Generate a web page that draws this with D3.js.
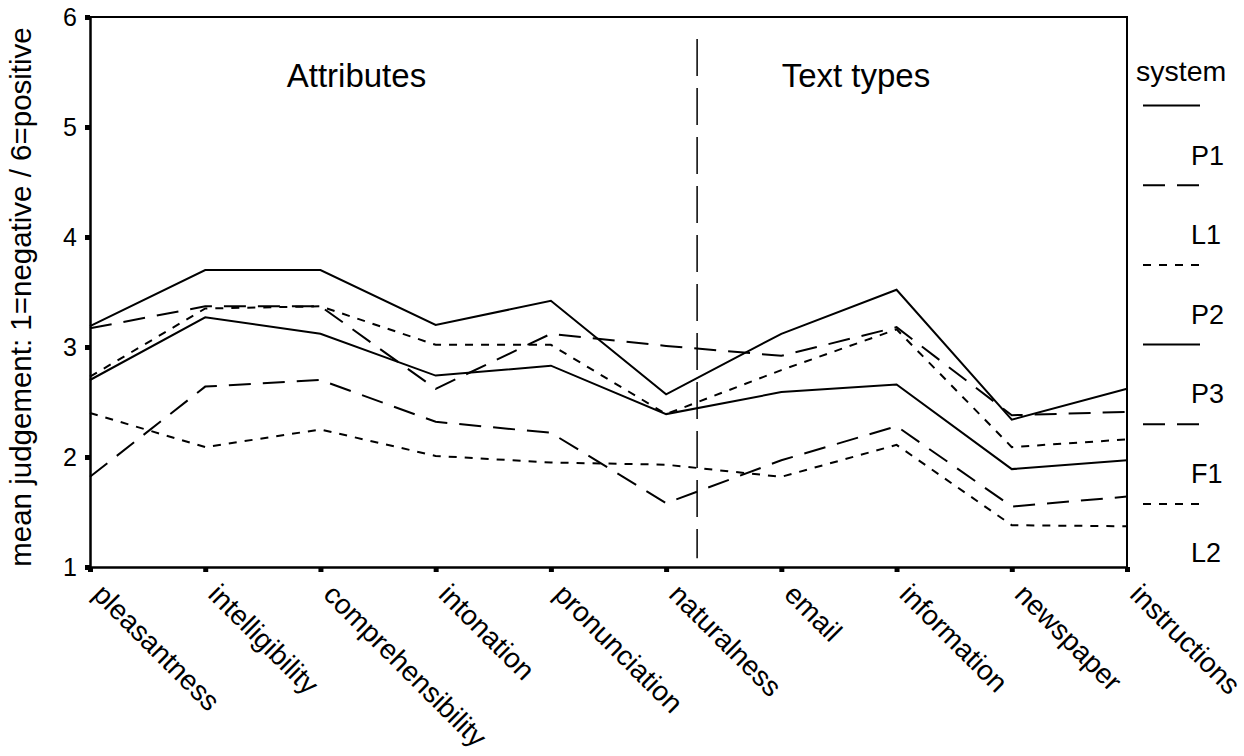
<!DOCTYPE html>
<html>
<head>
<meta charset="utf-8">
<script src="https://cdn.jsdelivr.net/npm/d3@7"></script>
<style>
  html, body { margin: 0; padding: 0; background: #fff; }
  svg { display: block; }
  text { font-family: "Liberation Sans", Arial, sans-serif; fill: #000; }
</style>
</head>
<body>
<svg id="chart" width="1244" height="756"></svg>
<script>
// ---- data ----
const categories = ["pleasantness", "intelligibility", "comprehensibility", "intonation", "pronunciation",
                    "naturalness", "email", "information", "newspaper", "instructions"];
const yTicks = [1, 2, 3, 4, 5, 6];
const systems = ["P1", "L1", "P2", "P3", "F1", "L2"];
const P1 = [3.19, 3.70, 3.70, 3.20, 3.42, 2.57, 3.12, 3.52, 2.34, 2.62];
const L1 = [3.17, 3.37, 3.37, 2.62, 3.12, 3.01, 2.92, 3.18, 2.38, 2.41];
const P2 = [2.73, 3.35, 3.37, 3.02, 3.02, 2.39, 2.79, 3.16, 2.09, 2.16];
const P3 = [2.70, 3.27, 3.12, 2.74, 2.83, 2.39, 2.59, 2.66, 1.89, 1.97];
const F1 = [1.82, 2.64, 2.70, 2.32, 2.22, 1.58, 1.97, 2.28, 1.55, 1.64];
const L2 = [2.40, 2.09, 2.25, 2.01, 1.95, 1.93, 1.82, 2.11, 1.38, 1.37];
const seriesValues = [P1, L1, P2, P3, F1, L2];
const groupLabels = ["Attributes", "Text types"];
const yTitle = "mean judgement: 1=negative / 6=positive";
const legendTitle = "system";

// ---- styles ----
const dashes = ["none", "22,12", "8,8", "none", "22,12", "8,8"];

const svg = d3.select("#chart");
const mLeft = 90, mRight = 1127, mTop = 17, mBottom = 567;

const x = d3.scalePoint().domain(categories).range([mLeft, mRight]).padding(0);
const y = d3.scaleLinear().domain([1, 6]).range([mBottom, mTop]);

// frame (top & right)
svg.append("path")
  .attr("d", `M${mLeft},${mTop}H${mRight}V${mBottom}`)
  .attr("fill", "none").attr("stroke", "#000").attr("stroke-width", 2);

// y axis
const yAxis = svg.append("g").attr("transform", `translate(${mLeft},0)`)
  .call(d3.axisLeft(y).tickValues(yTicks).tickFormat(d3.format("d")).tickSize(5).tickSizeOuter(0).tickPadding(8));
yAxis.select(".domain").attr("stroke-width", 2.5);
yAxis.selectAll(".tick line").attr("stroke-width", 5);
yAxis.selectAll(".tick text").attr("font-size", 25).attr("font-family", "Liberation Sans, Arial, sans-serif").attr("fill", "#000");

// x axis
const xAxis = svg.append("g").attr("transform", `translate(0,${mBottom})`)
  .call(d3.axisBottom(x).tickSize(5).tickSizeOuter(0).tickFormat(""));
xAxis.select(".domain").attr("stroke-width", 2.5);
xAxis.selectAll(".tick line").attr("stroke-width", 5);
xAxis.selectAll(".tick").append("text")
  .attr("transform", "translate(1,29) rotate(45)")
  .attr("text-anchor", "start")
  .attr("font-size", 28)
  .attr("fill", "#000")
  .text(d => d);

// y title
svg.append("text")
  .attr("transform", `translate(31,${(mTop + mBottom) / 2 + 5}) rotate(-90)`)
  .attr("text-anchor", "middle")
  .attr("font-size", 29.5)
  .text(yTitle);

// divider
const divX = x("naturalness") + 31;
svg.append("line")
  .attr("x1", divX).attr("x2", divX)
  .attr("y1", y(5.8)).attr("y2", y(1.08))
  .attr("stroke", "#000").attr("stroke-width", 1.5)
  .attr("stroke-dasharray", "37,12");

// group labels
svg.append("text").attr("x", (x("intelligibility") + x("intonation")) / 2 + 36).attr("y", 87)
  .attr("text-anchor", "middle").attr("font-size", 33).text(groupLabels[0]);
svg.append("text").attr("x", (x("email") + x("information")) / 2 + 17).attr("y", 87)
  .attr("text-anchor", "middle").attr("font-size", 33).text(groupLabels[1]);

// lines
const line = d3.line().x((d, i) => x(categories[i])).y(d => y(d));
seriesValues.forEach((vals, k) => {
  svg.append("path")
    .datum(vals)
    .attr("d", line)
    .attr("fill", "none")
    .attr("stroke", "#000")
    .attr("stroke-width", 2)
    .attr("stroke-dasharray", dashes[k]);
});

// legend
const lg = svg.append("g");
lg.append("text").attr("x", 1136).attr("y", 81).attr("font-size", 28.5).text(legendTitle);
systems.forEach((s, k) => {
  const ly = 105.5 + k * 79.7;
  lg.append("line").attr("x1", 1143).attr("x2", 1200).attr("y1", ly).attr("y2", ly)
    .attr("stroke", "#000").attr("stroke-width", 2).attr("stroke-dasharray", dashes[k]);
  lg.append("text").attr("x", 1191).attr("y", 165 + k * 79.4).attr("font-size", 27).text(s);
});
</script>
</body>
</html>
